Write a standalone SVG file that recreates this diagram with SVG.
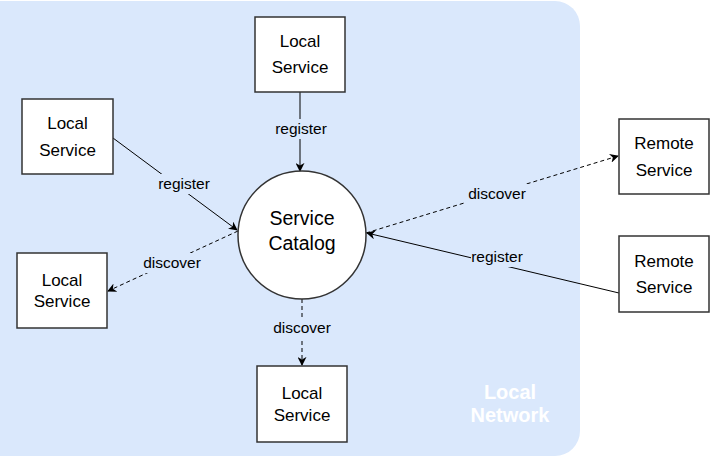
<svg xmlns="http://www.w3.org/2000/svg" width="711" height="459" viewBox="0 0 711 459">
<defs>
<style>
.node rect{fill:#fff;stroke:#333;stroke-width:1.5}
.node text{font-family:"Liberation Sans",Arial,sans-serif;font-size:17px;fill:#000;text-anchor:middle}
.node text.big{font-size:19.5px}
.edge{stroke:#000;stroke-width:1;fill:none}
.dash{stroke-dasharray:4 3}
.lbl{font-family:"Liberation Sans",Arial,sans-serif;font-size:15.5px;fill:#000;text-anchor:middle}
.lblbg{fill:#dae8fc}
.net{font-family:"Liberation Sans",Arial,sans-serif;font-size:20px;font-weight:bold;fill:#fff;text-anchor:middle}
</style>
<marker id="arr" viewBox="0 0 10 10" refX="9" refY="5" markerWidth="9" markerHeight="9" orient="auto" markerUnits="userSpaceOnUse">
<path d="M0,0 L10,5 L0,10 L3,5 Z" fill="#000"/>
</marker>
</defs>
<g id="local-network">
<rect x="-30" y="1" width="610" height="455" rx="25" ry="25" fill="#dae8fc"/>
<text class="net" x="510" y="399">Local</text>
<text class="net" x="510" y="422">Network</text>
</g>
<g id="connectors">
<line class="edge" x1="300" y1="92" x2="300" y2="171" marker-end="url(#arr)"/>
<line class="edge" x1="113" y1="138" x2="237" y2="230" marker-end="url(#arr)"/>
<line class="edge dash" x1="238" y1="231" x2="108" y2="291" marker-end="url(#arr)"/>
<line class="edge dash" x1="302" y1="299" x2="302" y2="365" marker-end="url(#arr)"/>
<line class="edge dash" x1="366" y1="233" x2="618" y2="156" marker-end="url(#arr)"/>
<line class="edge" x1="619" y1="293" x2="367" y2="233" marker-end="url(#arr)"/>
<rect class="lblbg" x="272" y="119" width="58" height="20"/>
<text class="lbl" x="301" y="134">register</text>
<rect class="lblbg" x="155" y="174" width="58" height="20"/>
<text class="lbl" x="184" y="189">register</text>
<rect class="lblbg" x="140" y="253" width="64" height="20"/>
<text class="lbl" x="172" y="268">discover</text>
<rect class="lblbg" x="270" y="318" width="64" height="20"/>
<text class="lbl" x="302" y="333">discover</text>
<rect class="lblbg" x="465" y="184" width="64" height="20"/>
<text class="lbl" x="497" y="199">discover</text>
<rect class="lblbg" x="471" y="247" width="52" height="20"/>
<text class="lbl" x="497" y="262">register</text>
</g>
<g id="service-catalog" class="node">
<circle cx="302" cy="235" r="64" fill="#fff" stroke="#333" stroke-width="1.5"/>
<text class="big" x="302" y="225">Service</text>
<text class="big" x="302" y="250">Catalog</text>
</g>
<g id="local-service-top" class="node">
<rect x="255" y="17" width="90" height="75"/>
<text x="300" y="47">Local</text>
<text x="300" y="73">Service</text>
</g>
<g id="local-service-left" class="node">
<rect x="22" y="99" width="91" height="75"/>
<text x="67.5" y="129">Local</text>
<text x="67.5" y="156">Service</text>
</g>
<g id="local-service-bottom-left" class="node">
<rect x="17" y="253" width="90" height="75"/>
<text x="62" y="286">Local</text>
<text x="62" y="307">Service</text>
</g>
<g id="local-service-bottom" class="node">
<rect x="257" y="366" width="90" height="76"/>
<text x="302" y="399">Local</text>
<text x="302" y="421">Service</text>
</g>
<g id="remote-service-1" class="node">
<rect x="619" y="119" width="90" height="75"/>
<text x="664" y="149">Remote</text>
<text x="664" y="176">Service</text>
</g>
<g id="remote-service-2" class="node">
<rect x="619" y="236" width="90" height="76"/>
<text x="664" y="267">Remote</text>
<text x="664" y="293">Service</text>
</g>
</svg>
